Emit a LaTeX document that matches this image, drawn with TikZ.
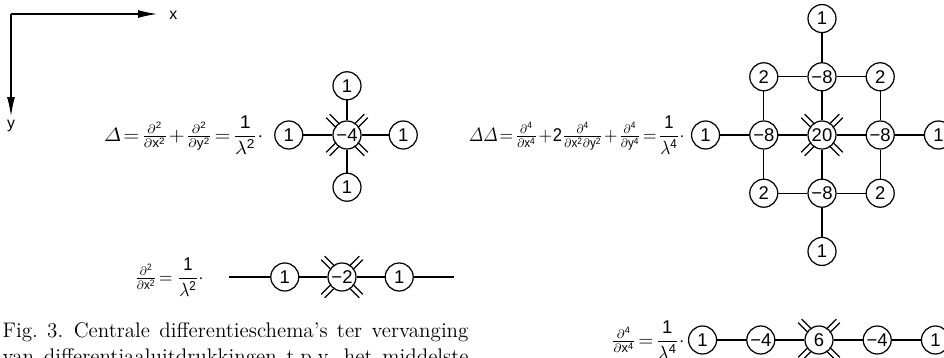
\documentclass[tikz,border=0pt]{standalone}
\usepackage{amsmath}
\usepackage{fontspec}
\setsansfont{Liberation Sans}
\usetikzlibrary{arrows.meta, positioning}

\newcommand{\hatches}[1]{%
  \foreach \a in {45,135,225,315}
    \draw[shift={(#1.center)}, rotate=\a] (13,2.5) -- (27,2.5) (13,-2.5) -- (27,-2.5);}

\begin{document}
\begin{tikzpicture}[
        x=0.02cm, y=-0.02cm, line width=0.7pt,
        coef/.style={draw, circle, minimum size=0.56cm, inner sep=0pt, font=\sffamily\fontsize{10.5}{12}\selectfont},
        eqn/.style={anchor=east, inner sep=0pt, font={\fontsize{10.5}{13}\selectfont\thickmuskip=2mu\relax\medmuskip=1mu\relax}},
        axis/.style={line width=1.1pt, -{Latex[length=0.4cm, width=0.16cm]}},
        capline/.style={anchor=base west, inner sep=0pt, font=\fontsize{12}{14.5}\selectfont},
        node distance=0.58cm
    ]
        \useasboundingbox (0,0) rectangle (944,358);

        \coordinate (org) at (11,14);
        \coordinate (xend) at (158,14);
        \coordinate (yend) at (11,117);
        \node[anchor=west, font=\sffamily\small] (xlab) at (163,15) {x};
        \node[font=\sffamily\small] (ylab) at (11,126) {y};
        \draw[axis] (org) -- (xend);
        \draw[axis] (org) -- (yend);

        \node[eqn] (lap) at (264,135) {\scalebox{1.06}[1]{$\varDelta=\frac{\partial^{\mathsf{2}}}{\partial \mathsf{x}^{\mathsf{2}}}+\frac{\partial^{\mathsf{2}}}{\partial \mathsf{y}^{\mathsf{2}}}=\dfrac{\mathsf{1}}{\lambda^{\mathsf{2}}}\cdot$}};
        \node[coef] (lc) at (347,135) {−4};
        \node[coef, left=of lc] (lw) {1};
        \node[coef, right=0.54cm of lc] (le) {1};
        \node[coef, above=0.40cm of lc] (ln) {1};
        \node[coef, below=0.46cm of lc] (ls) {1};
        \draw (lw) -- (lc) -- (le);
        \draw (ln) -- (lc) -- (ls);
        \hatches{lc}

        \node[eqn] (dxx) at (204,277) {\scalebox{0.9}[1]{$\frac{\partial^{\mathsf{2}}}{\partial \mathsf{x}^{\mathsf{2}}}=\,\dfrac{\mathsf{1}}{\lambda^{\mathsf{2}}}\cdot$}};
        \node[coef] (dc) at (342,277) {−2};
        \node[coef, left=0.56cm of dc] (dw) {1};
        \node[coef, right=0.56cm of dc] (de) {1};
        \coordinate (dwend) at (229,277);
        \coordinate (deend) at (454,277);
        \draw (dwend) -- (dw) -- (dc) -- (de) -- (deend);
        \hatches{dc}

        \node[eqn] (bih) at (685,135) {\scalebox{0.9}[1]{$\varDelta\varDelta=\frac{\partial^{\mathsf{4}}}{\partial \mathsf{x}^{\mathsf{4}}}+\mathsf{2}\frac{\partial^{\mathsf{4}}}{\partial \mathsf{x}^{\mathsf{2}}\partial \mathsf{y}^{\mathsf{2}}}+\frac{\partial^{\mathsf{4}}}{\partial \mathsf{y}^{\mathsf{4}}}=\dfrac{\mathsf{1}}{\lambda^{\mathsf{4}}}\cdot$}};
        \node[coef] (bc) at (822,135) {20};
        \node[coef, above=of bc] (bn) {−8};
        \node[coef, below=of bc] (bs) {−8};
        \node[coef, left=of bc] (bw) {−8};
        \node[coef, right=of bc] (be) {−8};
        \node[coef, left=of bn] (bnw) {2};
        \node[coef, right=of bn] (bne) {2};
        \node[coef, left=of bs] (bsw) {2};
        \node[coef, right=of bs] (bse) {2};
        \node[coef, above=of bn] (bnn) {1};
        \node[coef, below=of bs] (bss) {1};
        \node[coef, left=of bw] (bww) {1};
        \node[coef, right=of be] (bee) {1};
        \draw (bnn) -- (bn) -- (bc) -- (bs) -- (bss);
        \draw (bww) -- (bw) -- (bc) -- (be) -- (bee);
        \draw (bnw) -- (bn) -- (bne);
        \draw (bsw) -- (bs) -- (bse);
        \draw (bnw) -- (bw) -- (bsw);
        \draw (bne) -- (be) -- (bse);
        \hatches{bc}

        \node[eqn] (dxxxx) at (685,340) {$\frac{\partial^{\mathsf{4}}}{\partial \mathsf{x}^{\mathsf{4}}}=\dfrac{\mathsf{1}}{\lambda^{\mathsf{4}}}\cdot$};
        \node[coef] (fc) at (819,340) {6};
        \node[coef, left=of fc] (fw) {−4};
        \node[coef, left=of fw] (fww) {1};
        \node[coef, right=of fc] (fe) {−4};
        \node[coef, right=of fe] (fee) {1};
        \draw (fww) -- (fw) -- (fc) -- (fe) -- (fee);
        \hatches{fc}

        \node[capline] (cap1) at (2,337) {\makebox[9.32cm][s]{Fig.~3.\enskip Centrale differentieschema's ter vervanging}};
        \node[capline] (cap2) at (2,363) {\makebox[9.32cm][s]{van differentiaaluitdrukkingen t.p.v.\ het middelste}};
    \end{tikzpicture}
\end{document}
